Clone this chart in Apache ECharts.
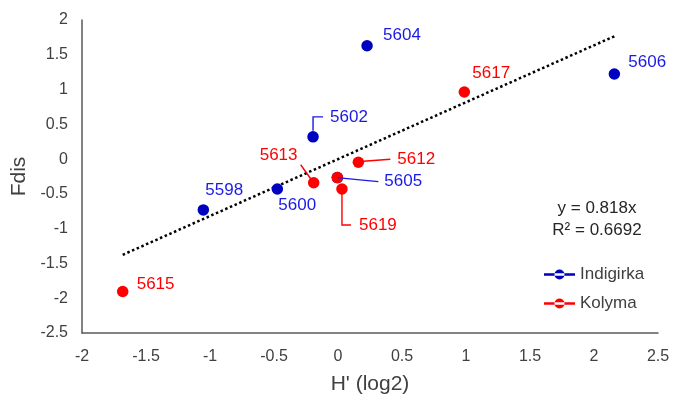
<!DOCTYPE html>
<html>
<head>
<meta charset="utf-8">
<script src="https://cdn.jsdelivr.net/npm/echarts@6/dist/echarts.min.js"></script>
<style>
  html, body { margin: 0; padding: 0; background: #fff; }
  #chart { width: 673px; height: 397px; }
</style>
</head>
<body>
<div id="chart"></div>
<script>
const indigirkaNames = ['5604', '5602', '5600', '5598', '5605', '5606']
const indigirkaX = [0.227, -0.195, -0.474, -1.052, -0.005, 2.159]
const indigirkaY = [1.63, 0.32, -0.43, -0.73, -0.266, 1.224]

// the last one has no label, it sits on top of 5605
const kolymaNames = ['5613', '5612', '5619', '5617', '5615', '']
const kolymaX = [-0.19, 0.159, 0.031, 0.987, -1.682, -0.005]
const kolymaY = [-0.34, -0.045, -0.43, 0.965, -1.904, -0.266]

const slope = 0.818
const r2 = 0.6692
const xTicks = [-2, 2.5, 0.5]
const yTicks = [-2.5, 2, 0.5]

// label offsets from the point centre (px)
const labelOffset = {
  '5604': [16, -10], '5602': [17, -20], '5600': [1, 16], '5598': [2, -20],
  '5605': [47, 4], '5606': [14, -12], '5613': [-54, -27], '5612': [39, -3],
  '5619': [17, 36], '5617': [8, -19], '5615': [14, -7]
}
// leader line shapes, px relative to the point centre
const leaderShape = {
  '5602': [[0, -6], [0, -20], [10, -20]],
  '5613': [[-13, -18], [-3, -4]],
  '5612': [[5, -1], [32, -3]],
  '5605': [[0, 0], [20, 2], [41, 4]],
  '5619': [[0, 5], [0, 36], [9, 36]]
}

const BLUE = '#0000c0'
const BLUE_TXT = '#1a1ae6'
const RED = '#ff0000'
const FONT = 'Liberation Sans, Arial, sans-serif'

const allX = indigirkaX.concat(kolymaX)
const xMin = Math.min(...allX)
const xMax = Math.max(...allX)

const makeData = (names, xs, ys, txtColor) => names.map((n, i) => ({
  name: n,
  value: [xs[i], ys[i]],
  label: { show: n !== '', color: txtColor }
}))

const layoutFn = (series) => (params) => {
  const n = series[params.dataIndex]
  const off = labelOffset[n] || [0, 0]
  const cx = params.rect.x + params.rect.width / 2
  const cy = params.rect.y + params.rect.height / 2
  return { x: cx + off[0], y: cy + off[1], align: 'left', verticalAlign: 'middle' }
}

// leaders: one row per labelled point that has one
const leaderRows = []
indigirkaNames.forEach((n, i) => { if (leaderShape[n]) leaderRows.push([indigirkaX[i], indigirkaY[i], n, BLUE_TXT]) })
kolymaNames.forEach((n, i) => { if (leaderShape[n]) leaderRows.push([kolymaX[i], kolymaY[i], n, RED]) })

const chart = echarts.init(document.getElementById('chart'))

const axisCommon = {
  axisLine: { show: true, onZero: false, lineStyle: { color: '#595959', width: 1.5 } },
  axisTick: { show: false },
  splitLine: { show: false },
  axisLabel: { color: '#404040', fontSize: 16, fontFamily: FONT },
  nameLocation: 'middle',
  nameTextStyle: { color: '#404040', fontSize: 21, fontFamily: FONT }
}

chart.setOption({
  animation: false,
  grid: { left: 82, right: 15, top: 20, bottom: 64, outerBoundsMode: 'none' },
  xAxis: Object.assign({}, axisCommon, {
    type: 'value', min: xTicks[0], max: xTicks[1], interval: xTicks[2],
    name: "H' (log2)", nameGap: 41,
    axisLabel: Object.assign({}, axisCommon.axisLabel, { margin: 16 })
  }),
  yAxis: Object.assign({}, axisCommon, {
    type: 'value', min: yTicks[0], max: yTicks[1], interval: yTicks[2],
    name: 'Fdis', nameGap: 48,
    axisLabel: Object.assign({}, axisCommon.axisLabel, { margin: 14 })
  }),
  legend: {
    orient: 'vertical',
    left: 539,
    top: 261,
    itemWidth: 31,
    itemHeight: 10,
    itemGap: 12,
    icon: 'path://M0,3.8 L31,3.8 L31,6.2 L0,6.2 Z M10.5,5 A5,5 0 1,0 20.5,5 A5,5 0 1,0 10.5,5 Z',
    textStyle: { color: '#404040', fontSize: 17, fontFamily: FONT },
    data: ['Indigirka', 'Kolyma']
  },
  graphic: [
    {
      type: 'text', left: 597 - 60, top: 197,
      style: {
        text: 'y = ' + slope + 'x\nR² = ' + r2,
        width: 120, align: 'center', textAlign: 'center',
        fontSize: 17, lineHeight: 22, fontFamily: FONT, fill: '#262626'
      }
    }
  ],
  series: [
    {
      name: 'trend',
      type: 'line',
      z: 1,
      symbol: 'none',
      silent: true,
      lineStyle: { color: '#000', width: 2.5, type: [2.5, 2.6] },
      data: [[xMin, slope * xMin], [xMax, slope * xMax]]
    },
    {
      name: 'Indigirka',
      type: 'scatter',
      z: 3,
      symbolSize: 11.5,
      itemStyle: { color: BLUE, opacity: 1 },
      label: { show: true, fontSize: 17, fontFamily: FONT, formatter: '{b}' },
      labelLayout: layoutFn(indigirkaNames),
      data: makeData(indigirkaNames, indigirkaX, indigirkaY, BLUE_TXT)
    },
    {
      name: 'Kolyma',
      type: 'scatter',
      z: 4,
      symbolSize: 11.5,
      itemStyle: { color: RED, opacity: 1 },
      label: { show: true, fontSize: 17, fontFamily: FONT, formatter: '{b}' },
      labelLayout: layoutFn(kolymaNames),
      data: makeData(kolymaNames, kolymaX, kolymaY, RED)
    },
    {
      name: 'leaders',
      type: 'custom',
      z: 5,
      silent: true,
      data: leaderRows,
      renderItem: (params, api) => {
        const c = api.coord([api.value(0), api.value(1)])
        const row = leaderRows[params.dataIndex]
        const pts = leaderShape[row[2]].map(p => [c[0] + p[0], c[1] + p[1]])
        return {
          type: 'polyline',
          shape: { points: pts },
          style: { stroke: row[3], lineWidth: 1.4, fill: null }
        }
      }
    }
  ]
})
</script>
</body>
</html>
